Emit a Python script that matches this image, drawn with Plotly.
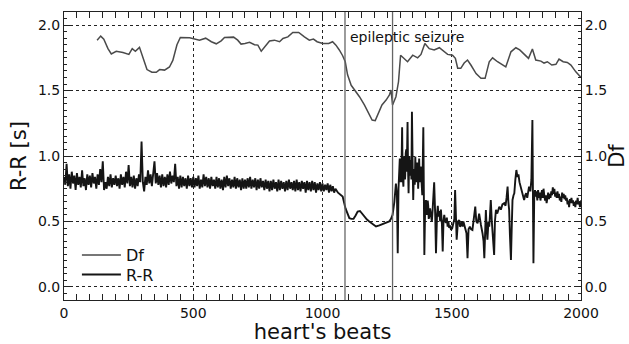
import plotly.graph_objects as go

# ---- Df series (beat, value) ----
df_beats = [128, 142, 154, 170, 183, 202, 228, 251, 264, 276, 292, 305, 321, 340, 357, 370, 389, 408, 421, 437,
            450, 486, 509, 524, 548, 570, 589, 608, 621, 656, 672, 685, 700, 718, 737, 750, 763, 776, 795, 814,
            834, 847, 866, 885, 908, 930, 949, 965, 979, 1001, 1024, 1039, 1052, 1065, 1078, 1088, 1097, 1111,
            1123, 1143, 1162, 1181, 1192, 1204, 1217, 1230, 1246, 1259, 1265, 1271, 1284, 1294, 1302, 1316,
            1329, 1349, 1368, 1381, 1396, 1413, 1432, 1452, 1471, 1484, 1503, 1514, 1523, 1535, 1548, 1561,
            1574, 1594, 1613, 1629, 1645, 1658, 1677, 1696, 1709, 1729, 1748, 1763, 1780, 1797, 1812, 1825,
            1845, 1857, 1870, 1887, 1903, 1915, 1931, 1947, 1961, 1980, 2000]
df_vals = [1.885, 1.916, 1.893, 1.82, 1.78, 1.80, 1.79, 1.776, 1.82, 1.80, 1.83, 1.746, 1.66, 1.64, 1.64, 1.66,
           1.656, 1.68, 1.73, 1.85, 1.906, 1.903, 1.89, 1.885, 1.90, 1.873, 1.857, 1.88, 1.906, 1.908, 1.885,
           1.855, 1.86, 1.868, 1.85, 1.847, 1.80, 1.835, 1.878, 1.885, 1.873, 1.898, 1.91, 1.944, 1.944, 1.91,
           1.885, 1.893, 1.873, 1.86, 1.86, 1.873, 1.847, 1.81, 1.766, 1.72, 1.62, 1.54, 1.51, 1.453, 1.39,
           1.318, 1.275, 1.27, 1.326, 1.39, 1.427, 1.466, 1.504, 1.39, 1.453, 1.567, 1.77, 1.74, 1.72, 1.77,
           1.75, 1.776, 1.86, 1.82, 1.81, 1.827, 1.80, 1.776, 1.77, 1.746, 1.67, 1.67, 1.71, 1.733, 1.695,
           1.63, 1.593, 1.593, 1.72, 1.75, 1.72, 1.695, 1.68, 1.796, 1.827, 1.81, 1.776, 1.746, 1.817, 1.733,
           1.725, 1.71, 1.72, 1.695, 1.70, 1.74, 1.72, 1.715, 1.695, 1.643, 1.60]

# ---- R-R series, part A: read every 5 beats (0..1050) ----
rr_beats_a = list(range(0, 1055, 5))
rr_vals_a = [
    0.84, 0.78, 0.94, 0.77, 0.86, 0.75, 0.88, 0.79, 0.85, 0.74, 0.87, 0.78, 0.84, 0.76, 0.89, 0.77, 0.83, 0.74, 0.86, 0.78,
    0.85, 0.76, 0.87, 0.79, 0.84, 0.75, 0.86, 0.78, 0.90, 0.80, 0.96, 0.74, 0.80, 0.75, 0.84, 0.77, 0.86, 0.76, 0.83, 0.78,
    0.85, 0.77, 0.83, 0.75, 0.86, 0.78, 0.84, 0.76, 0.88, 0.79, 0.93, 0.77, 0.84, 0.76, 0.85, 0.75, 0.83, 0.77, 0.86, 0.80,
    1.11, 0.80, 0.73, 0.84, 0.78, 0.89, 0.79, 0.86, 0.77, 0.90, 0.96, 0.79, 0.87, 0.78, 0.85, 0.76, 0.86, 0.77, 0.84, 0.76,
    0.86, 0.78, 0.88, 0.79, 0.85, 0.80, 0.94, 0.77, 0.84, 0.75, 0.85, 0.76, 0.84, 0.77, 0.83, 0.75, 0.85, 0.77, 0.83, 0.76,
    0.84, 0.76, 0.83, 0.77, 0.85, 0.75, 0.82, 0.76, 0.86, 0.77, 0.84, 0.76, 0.83, 0.75, 0.84, 0.77, 0.82, 0.75, 0.84, 0.76,
    0.83, 0.75, 0.82, 0.74, 0.84, 0.76, 0.85, 0.77, 0.83, 0.75, 0.82, 0.76, 0.84, 0.75, 0.83, 0.76, 0.82, 0.74, 0.83, 0.75,
    0.82, 0.75, 0.83, 0.76, 0.84, 0.75, 0.82, 0.76, 0.83, 0.74, 0.82, 0.75, 0.83, 0.76, 0.81, 0.74, 0.82, 0.75, 0.81, 0.73,
    0.81, 0.74, 0.82, 0.75, 0.80, 0.73, 0.82, 0.74, 0.81, 0.75, 0.80, 0.73, 0.81, 0.74, 0.82, 0.75, 0.80, 0.74, 0.81, 0.73,
    0.82, 0.74, 0.80, 0.73, 0.81, 0.75, 0.80, 0.72, 0.81, 0.74, 0.80, 0.73, 0.81, 0.74, 0.80, 0.72, 0.79, 0.74, 0.80, 0.73,
    0.79, 0.73, 0.78, 0.74, 0.79, 0.72, 0.78, 0.73, 0.77, 0.72, 0.75]

# ---- R-R series, part B: around and after the seizure ----
rr_beats_b = [
    1060, 1070, 1078, 1089, 1097, 1104, 1112, 1120, 1128, 1136,
    1145, 1153, 1162, 1172, 1181, 1194, 1207, 1220, 1233, 1246,
    1258, 1265, 1271, 1278, 1284, 1288, 1291, 1294, 1296, 1297,
    1299, 1301, 1302, 1304, 1305, 1308, 1310, 1313, 1315, 1317,
    1319, 1320, 1322, 1324, 1326, 1329, 1331, 1333, 1335, 1336,
    1338, 1340, 1342, 1344, 1346, 1349, 1351, 1353, 1355, 1357,
    1359, 1361, 1363, 1366, 1368, 1370, 1372, 1374, 1376, 1378,
    1380, 1383, 1386, 1390, 1394, 1397, 1400, 1403, 1405, 1407,
    1409, 1411, 1413, 1416, 1420, 1423, 1426, 1432, 1436, 1439,
    1443, 1446, 1449, 1452, 1455, 1458, 1462, 1465, 1468, 1471,
    1474, 1478, 1481, 1484, 1487, 1490, 1494, 1497, 1502, 1506,
    1510, 1513, 1516, 1519, 1524, 1529, 1532, 1535, 1539, 1542,
    1545, 1548, 1551, 1554, 1557, 1561, 1565, 1570, 1575, 1580,
    1585, 1591, 1595, 1600, 1606, 1610, 1613, 1619, 1623, 1626,
    1629, 1632, 1635, 1638, 1642, 1645, 1648, 1651, 1655, 1658,
    1661, 1664, 1667, 1671, 1676, 1680, 1684, 1690, 1696, 1703,
    1708, 1712, 1716, 1719, 1722, 1725, 1729, 1732, 1735, 1739,
    1742, 1746, 1750, 1754, 1758, 1762, 1767, 1772, 1776, 1780,
    1784, 1788, 1792, 1796, 1799, 1804, 1808, 1812, 1814, 1816,
    1819, 1822, 1825, 1828, 1831, 1834, 1837, 1840, 1843, 1846,
    1849, 1852, 1855, 1858, 1861, 1864, 1867, 1870, 1873, 1876,
    1879, 1882, 1885, 1888, 1891, 1894, 1897, 1900, 1903, 1906,
    1909, 1912, 1915, 1918, 1921, 1924, 1927, 1930, 1933, 1936,
    1939, 1942, 1945, 1948, 1951, 1954, 1957, 1960, 1963, 1966,
    1969, 1972, 1975, 1978, 1981, 1984, 1987, 1990, 1993, 1996,
    2000]
rr_vals_b = [
    0.72, 0.70, 0.69, 0.60, 0.56, 0.525, 0.52, 0.52, 0.545, 0.575,
    0.58, 0.56, 0.535, 0.515, 0.50, 0.48, 0.462, 0.47, 0.48, 0.49,
    0.50, 0.52, 0.55, 0.65, 0.79, 0.70, 0.257, 0.75, 0.90, 0.84,
    0.98, 0.80, 0.95, 0.82, 0.80, 1.22, 0.85, 0.766, 0.95, 1.0,
    0.82, 0.85, 1.02, 1.05, 0.88, 1.26, 0.90, 0.715, 0.95, 1.0,
    0.85, 0.93, 0.97, 0.82, 1.338, 0.88, 0.664, 0.85, 0.90, 0.78,
    0.995, 0.85, 0.80, 0.95, 0.92, 0.75, 0.96, 0.98, 0.80, 0.82,
    0.92, 0.84, 0.70, 1.22, 0.244, 0.60, 0.664, 0.55, 0.57, 0.66,
    0.62, 0.52, 0.537, 0.60, 0.56, 0.50, 0.59, 0.80, 0.55, 0.257,
    0.55, 0.62, 0.537, 0.58, 0.50, 0.59, 0.48, 0.27, 0.50, 0.55,
    0.50, 0.49, 0.53, 0.46, 0.50, 0.45, 0.47, 0.435, 0.45, 0.486,
    0.52, 0.74, 0.50, 0.36, 0.50, 0.51, 0.46, 0.47, 0.50, 0.46,
    0.50, 0.48, 0.46, 0.44, 0.41, 0.22, 0.44, 0.46, 0.44, 0.435,
    0.50, 0.613, 0.50, 0.486, 0.56, 0.48, 0.473, 0.41, 0.35, 0.22,
    0.45, 0.588, 0.45, 0.36, 0.50, 0.46, 0.55, 0.664, 0.50, 0.41,
    0.35, 0.244, 0.50, 0.588, 0.56, 0.60, 0.613, 0.59, 0.63, 0.64,
    0.62, 0.68, 0.766, 0.65, 0.588, 0.40, 0.206, 0.45, 0.664, 0.70,
    0.715, 0.82, 0.893, 0.84, 0.86, 0.80, 0.766, 0.72, 0.70, 0.664,
    0.70, 0.715, 0.68, 0.75, 0.766, 0.73, 0.817, 1.275, 0.70, 0.18,
    0.68, 0.74, 0.69, 0.73, 0.66, 0.74, 0.68, 0.72, 0.66, 0.71,
    0.74, 0.68, 0.75, 0.70, 0.66, 0.70, 0.64, 0.68, 0.72, 0.67,
    0.71, 0.68, 0.73, 0.70, 0.76, 0.71, 0.75, 0.69, 0.72, 0.68,
    0.73, 0.68, 0.71, 0.66, 0.69, 0.65, 0.72, 0.68, 0.71, 0.67,
    0.70, 0.66, 0.68, 0.63, 0.66, 0.61, 0.67, 0.64, 0.68, 0.64,
    0.66, 0.62, 0.65, 0.61, 0.66, 0.63, 0.68, 0.63, 0.65, 0.61,
    0.66]

seizure_bounds = [1087, 1271]
x_ticks = [0, 500, 1000, 1500, 2000]
y_ticks = [0.0, 0.5, 1.0, 1.5, 2.0]
y_ticklabels = ["0.0", "0.5", "1.0", "1.5", "2.0"]

FONT = "DejaVu Sans"
fig = go.Figure()

fig.add_trace(go.Scatter(x=df_beats, y=df_vals, mode="lines", name="Df", legend="legend",
                         line=dict(color="#4a4a4a", width=1.5), yaxis="y2"))
fig.add_trace(go.Scatter(x=rr_beats_a + rr_beats_b, y=rr_vals_a + rr_vals_b, mode="lines", name="R-R",
                         legend="legend2", line=dict(color="#151515", width=1.9)))

for xb in seizure_bounds:
    fig.add_shape(type="line", x0=xb, x1=xb, y0=0, y1=1, xref="x", yref="paper",
                  line=dict(color="#666666", width=1.3))

fig.add_annotation(x=1107, y=1.91, xref="x", yref="y", text="epileptic seizure", showarrow=False,
                   xanchor="left", yanchor="middle", xshift=-2, font=dict(family=FONT, size=14, color="#111"))

axis_common = dict(showline=True, linecolor="#222", linewidth=1, ticks="inside", ticklen=6,
                   tickcolor="#222", zeroline=False, automargin=False,
                   tickfont=dict(family=FONT, size=14, color="#111"))

legend_common = dict(xanchor="left", yanchor="middle", bgcolor="rgba(0,0,0,0)",
                     font=dict(family=FONT, size=16, color="#111"), itemwidth=39)

fig.update_layout(
    width=629, height=344,
    margin=dict(l=64, r=48, t=12, b=44),
    paper_bgcolor="white", plot_bgcolor="white",
    showlegend=True,
    legend=dict(x=0.025, y=0.156, **legend_common),
    legend2=dict(x=0.025, y=0.088, **legend_common),
    xaxis=dict(range=[0, 2000], tickvals=x_ticks, mirror="allticks",
               showgrid=True, gridcolor="#222", griddash="dot", gridwidth=1,
               minor=dict(dtick=50, tick0=0, ticks="inside", ticklen=4, tickcolor="#222", showgrid=False),
               title=dict(text="heart's beats", font=dict(family=FONT, size=21, color="#111"), standoff=2),
               **axis_common),
    yaxis=dict(range=[-0.1, 2.1], tickvals=y_ticks, ticktext=y_ticklabels,
               showgrid=True, gridcolor="#222", griddash="dot", gridwidth=1,
               minor=dict(dtick=0.05, tick0=0, ticks="inside", ticklen=3, tickcolor="#222", showgrid=False),
               title=dict(text="R-R [s]", font=dict(family=FONT, size=21, color="#111"), standoff=5),
               **axis_common),
    yaxis2=dict(range=[-0.1, 2.1], tickvals=y_ticks, ticktext=y_ticklabels, overlaying="y", side="right",
                showgrid=False,
                minor=dict(dtick=0.05, tick0=0, ticks="inside", ticklen=3, tickcolor="#222", showgrid=False),
                title=dict(text="Df", font=dict(family=FONT, size=21, color="#111"), standoff=4),
                **axis_common),
)

fig.write_html("out.html")
